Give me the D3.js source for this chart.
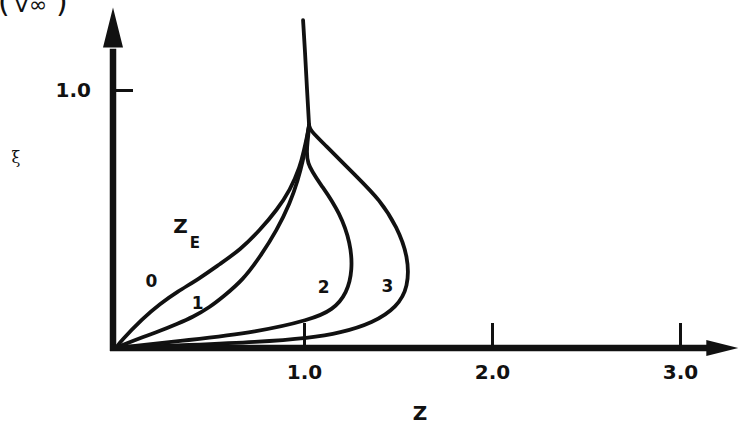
<!DOCTYPE html>
<html>
<head>
<meta charset="utf-8">
<script src="https://cdn.jsdelivr.net/npm/d3@7"></script>
<style>
  body { margin: 0; background: #fff; }
  svg { display: block; }
  .lbl { font-family: "DejaVu Sans", sans-serif; font-weight: bold; fill: #111; }
  .tick text { font-family: "DejaVu Sans", sans-serif; font-weight: bold; font-size: 20px; fill: #111; }
  .tick line { stroke: #111; stroke-width: 3; }
</style>
</head>
<body>
<div id="chart"></div>
<script>
// tick labels
var xTicks = [1.0, 2.0, 3.0];
var yTicks = [1.0];
var curveNames = ["0", "1", "2", "3"];

// profiles [z, xi], one per Z_E
var zE0 = [[0, 0], [0.021, 0.023], [0.144, 0.116], [0.234, 0.171], [0.324, 0.217], [0.447, 0.271],
           [0.553, 0.326], [0.660, 0.380], [0.766, 0.457], [0.856, 0.535], [0.926, 0.612],
           [0.979, 0.702], [1.000, 0.767], [1.016, 0.818], [1.027, 0.864]];
var zE1 = [[0, 0], [0.037, 0.012], [0.144, 0.043], [0.234, 0.066], [0.324, 0.093], [0.410, 0.120],
           [0.500, 0.159], [0.569, 0.198], [0.676, 0.264], [0.766, 0.353], [0.856, 0.457],
           [0.926, 0.562], [0.968, 0.651], [0.995, 0.729], [1.011, 0.787], [1.027, 0.864]];
var zE2 = [[0, 0], [0.394, 0.031], [0.750, 0.062], [1.032, 0.109], [1.154, 0.147], [1.229, 0.213],
           [1.258, 0.302], [1.248, 0.407], [1.191, 0.523], [1.101, 0.624], [1.005, 0.717],
           [1.021, 0.806], [1.027, 0.864]];
var zE3 = [[0, 0], [0.394, 0.012], [0.750, 0.023], [1.032, 0.039], [1.191, 0.058], [1.367, 0.097],
           [1.495, 0.159], [1.555, 0.236], [1.555, 0.353], [1.495, 0.469], [1.404, 0.574],
           [1.282, 0.663], [1.101, 0.795], [1.032, 0.845], [1.027, 0.864]];
// common stem above the cusp
var stem = [[1.027, 0.864], [1.016, 1.0], [1.005, 1.155], [0.995, 1.271]];

var width = 739, height = 426;

var svg = d3.select("#chart").append("svg")
    .attr("width", width)
    .attr("height", height);

var x = d3.scaleLinear().domain([0, 3]).range([116, 680]);
var y = d3.scaleLinear().domain([0, 1]).range([348, 90]);

var ax0 = x(0) - 3;   // y axis sits a bit left of the origin in the drawing

// profile curves
var line = d3.line()
    .x(function(d) { return x(d[0]); })
    .y(function(d) { return y(d[1]); })
    .curve(d3.curveBasis);

var g = svg.append("g");
[zE0, zE1, zE2, zE3, stem].forEach(function(c) {
    g.append("path")
        .attr("d", line(c))
        .attr("fill", "none")
        .attr("stroke", "#111")
        .attr("stroke-width", 3.8)
        .attr("stroke-linecap", "round");
});

// x axis ticks and labels
var xAxis = d3.axisBottom(x)
    .tickValues(xTicks)
    .tickSize(-25)
    .tickPadding(17)
    .tickFormat(d3.format(".1f"));
svg.append("g")
    .attr("transform", "translate(0," + y(0) + ")")
    .call(xAxis)
    .call(function(s) { s.select(".domain").remove(); });

// y axis tick and label
var yAxis = d3.axisLeft(y)
    .tickValues(yTicks)
    .tickSize(-20)
    .tickPadding(22)
    .tickFormat(d3.format(".1f"));
svg.append("g")
    .attr("transform", "translate(" + ax0 + ",0)")
    .call(yAxis)
    .call(function(s) { s.select(".domain").remove(); });

// thick axis lines with arrow heads
svg.append("line")
    .attr("x1", ax0).attr("y1", y(0) + 3)
    .attr("x2", ax0).attr("y2", y(1.16))
    .attr("stroke", "#111").attr("stroke-width", 6.5);
svg.append("path")
    .attr("d", "M" + ax0 + "," + y(1.32) + "L" + (ax0 - 10) + "," + y(1.165) + "L" + (ax0 + 10) + "," + y(1.165) + "Z")
    .attr("fill", "#111");

svg.append("line")
    .attr("x1", ax0 - 3).attr("y1", y(0))
    .attr("x2", x(3.15)).attr("y2", y(0))
    .attr("stroke", "#111").attr("stroke-width", 6.5);
svg.append("path")
    .attr("d", "M" + x(3.31) + "," + y(0) + "L" + x(3.14) + "," + (y(0) - 8) + "L" + x(3.14) + "," + (y(0) + 8) + "Z")
    .attr("fill", "#111");

// curve labels
var labelAt = [[0.189, 0.236], [0.434, 0.150], [1.104, 0.213], [1.444, 0.217]];
curveNames.forEach(function(n, i) {
    svg.append("text")
        .attr("class", "lbl")
        .attr("x", x(labelAt[i][0]))
        .attr("y", y(labelAt[i][1]))
        .attr("text-anchor", "middle")
        .attr("font-size", 17)
        .text(n);
});

// Z_E
svg.append("text")
    .attr("class", "lbl")
    .attr("x", x(0.343)).attr("y", y(0.446))
    .attr("text-anchor", "middle")
    .attr("font-size", 20)
    .text("Z");
svg.append("text")
    .attr("class", "lbl")
    .attr("x", x(0.420)).attr("y", y(0.388))
    .attr("text-anchor", "middle")
    .attr("font-size", 15)
    .text("E");

// axis titles
svg.append("text")
    .attr("class", "lbl")
    .attr("x", 420).attr("y", 420)
    .attr("text-anchor", "middle")
    .attr("font-size", 20)
    .text("Z");

svg.append("text")
    .attr("x", 16).attr("y", 163)
    .attr("text-anchor", "middle")
    .attr("font-family", "DejaVu Serif, serif")
    .attr("font-size", 16)
    .attr("fill", "#111")
    .text("ξ");

// y title, clipped by the top edge as in the scan
var yTitle = svg.append("text")
    .attr("font-family", "DejaVu Sans, sans-serif")
    .attr("fill", "#111")
    .attr("y", 12);
yTitle.append("tspan").attr("x", -2).attr("font-size", 30).text("(");
yTitle.append("tspan").attr("x", 14).attr("font-size", 22).text("V∞");
yTitle.append("tspan").attr("x", 56).attr("font-size", 30).text(")");
</script>
</body>
</html>
